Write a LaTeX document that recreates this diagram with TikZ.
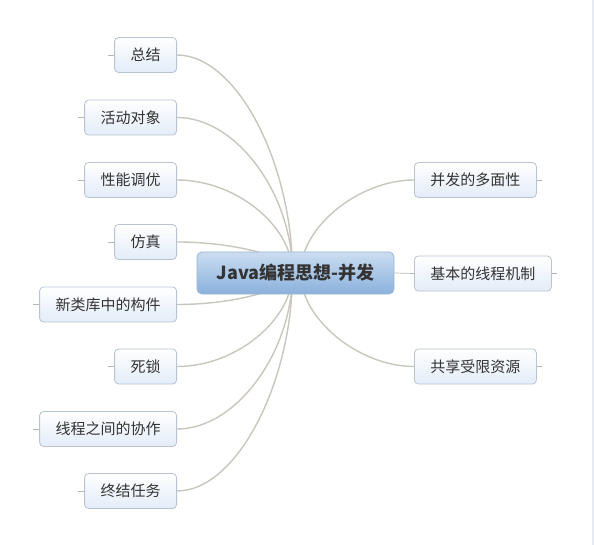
\documentclass[tikz,border=0pt]{standalone}
\usepackage{fontspec}
\setmainfont{Liberation Sans}
\newfontfamily\cjk{Noto Sans CJK SC}
\usetikzlibrary{backgrounds}
\definecolor{linec}{HTML}{C9C5BF}
\definecolor{tickc}{HTML}{B5B5B5}
\definecolor{boxborder}{HTML}{B9C3D2}
\definecolor{boxfill}{HTML}{E3ECF8}
\definecolor{textc}{HTML}{333333}
\definecolor{maintop}{HTML}{CBDDF1}
\definecolor{mainbot}{HTML}{8AB1DC}
\definecolor{mainborder}{HTML}{9DB6D3}
\definecolor{stripc}{HTML}{E6EAF3}
\begin{document}
\begin{tikzpicture}[x=1pt,y=1pt,
  topic/.style={draw=boxborder, line width=0.8pt, rounded corners=4pt,
    top color=white, bottom color=boxfill, minimum height=35pt,
    inner xsep=16pt, text=textc, font=\cjk\fontsize{15}{17}\selectfont},
  central/.style={draw=mainborder, line width=0.8pt, rounded corners=5pt,
    top color=maintop, bottom color=mainbot, minimum height=42pt,
    minimum width=197pt, text=textc, font=\cjk\bfseries\fontsize{18}{20}\selectfont},
  conn/.style={draw=linec, line width=1.4pt},
  tick/.style={draw=tickc, line width=0.7pt}]
\useasboundingbox (0,0) rectangle (594,-545);
\fill[stripc] (592,0) rectangle (594,-545);

\node[central] (c) at (295.5,-273) {Java编程思想-并发};

\node[topic,anchor=east] (n1) at (177,-55) {总结};
\node[topic,anchor=east] (n2) at (177,-117.5) {活动对象};
\node[topic,anchor=east] (n3) at (177,-180) {性能调优};
\node[topic,anchor=east] (n4) at (177,-242) {仿真};
\node[topic,anchor=east] (n5) at (177,-304.5) {新类库中的构件};
\node[topic,anchor=east] (n6) at (177,-366.5) {死锁};
\node[topic,anchor=east] (n7) at (177,-429) {线程之间的协作};
\node[topic,anchor=east] (n8) at (177,-491) {终结任务};

\node[topic,anchor=west] (r1) at (414,-180) {并发的多面性};
\node[topic,anchor=west] (r2) at (414,-273.5) {基本的线程机制};
\node[topic,anchor=west] (r3) at (414,-366.5) {共享受限资源};

\begin{scope}[on background layer]
\draw[conn] (n1.east) .. controls +(60,0) and +(0,109) .. ([xshift=-3pt]c.center);
\draw[conn] (n2.east) .. controls +(60,0) and +(0,78) .. ([xshift=-3pt]c.center);
\draw[conn] (n3.east) .. controls +(60,0) and +(0,46) .. ([xshift=-3pt]c.center);
\draw[conn] (n4.east) .. controls +(60,0) and +(0,15) .. ([xshift=-3pt]c.center);
\draw[conn] (n5.east) .. controls +(60,0) and +(0,-15) .. ([xshift=-3pt]c.center);
\draw[conn] (n6.east) .. controls +(60,0) and +(0,-46) .. ([xshift=-3pt]c.center);
\draw[conn] (n7.east) .. controls +(60,0) and +(0,-78) .. ([xshift=-3pt]c.center);
\draw[conn] (n8.east) .. controls +(60,0) and +(0,-109) .. ([xshift=-3pt]c.center);
\draw[conn] ([xshift=5pt]c.center) .. controls +(0,46) and +(-55,0) .. (r1.west);
\draw[conn] ([xshift=5pt]c.center) .. controls +(0,-46) and +(-55,0) .. (r3.west);
\end{scope}

\draw[tick] (c.east) -- (r2.west);
\foreach \n in {n1,n2,n3,n4,n5,n6,n7,n8} \draw[tick] (\n.west) -- ++(-6,0);
\foreach \n in {r1,r2,r3} \draw[tick] (\n.east) -- ++(5,0);
\end{tikzpicture}
\end{document}
